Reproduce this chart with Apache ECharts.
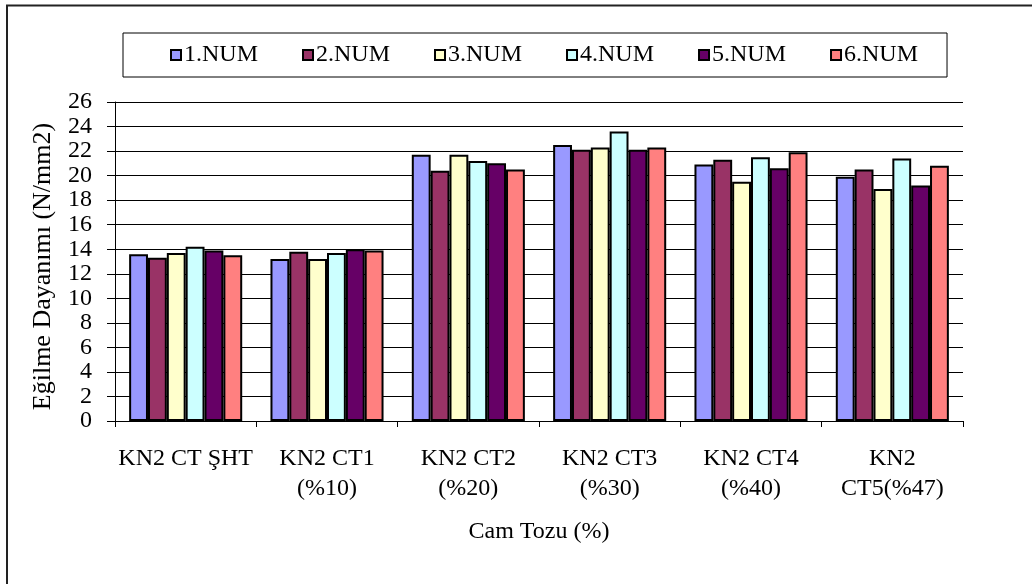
<!DOCTYPE html>
<html>
<head>
<meta charset="utf-8">
<script src="https://cdn.jsdelivr.net/npm/echarts@6/dist/echarts.min.js"></script>
<style>
  html, body { margin: 0; padding: 0; background: #fff; }
  #chart { width: 1032px; height: 584px; }
</style>
</head>
<body>
<div id="chart"></div>
<script>
// Category labels (sample groups)
const categories = ['KN2 CT ŞHT', 'KN2 CT1\n(%10)', 'KN2 CT2\n(%20)', 'KN2 CT3\n(%30)', 'KN2 CT4\n(%40)', 'KN2\nCT5(%47)'];

// Series names
const seriesNames = ['1.NUM', '2.NUM', '3.NUM', '4.NUM', '5.NUM', '6.NUM'];

// Flexural strength (N/mm2) per specimen
const num1 = [13.6, 13.2, 21.7, 22.5, 20.9, 19.9];
const num2 = [13.3, 13.8, 20.4, 22.1, 21.3, 20.5];
const num3 = [13.7, 13.2, 21.7, 22.3, 19.5, 18.9];
const num4 = [14.2, 13.7, 21.2, 23.6, 21.5, 21.4];
const num5 = [13.9, 14.0, 21.0, 22.1, 20.6, 19.2];
const num6 = [13.5, 13.9, 20.5, 22.3, 21.9, 20.8];

// Y axis range
const yMin = 0;
const yMax = 26;
const yStep = 2;

const seriesValues = [num1, num2, num3, num4, num5, num6];
const colors = ['#9999FF', '#993366', '#FFFFCC', '#CCFFFF', '#660066', '#FF8080'];

const FONT = '"Liberation Serif", "Times New Roman", serif';

const chart = echarts.init(document.getElementById('chart'), null, { renderer: 'canvas' });

const option = {
  animation: false,
  backgroundColor: '#fff',
  textStyle: { fontFamily: FONT, color: '#000' },
  graphic: [
    {
      type: 'polyline',
      silent: true,
      shape: { points: [[7, 584], [7, 5.5], [1032, 5.5]] },
      style: { stroke: '#222', lineWidth: 2, fill: null }
    }
  ],
  legend: {
    data: seriesNames,
    left: 123,
    top: 33,
    padding: [10, 29, 10, 47],
    itemGap: 44,
    itemWidth: 10,
    itemHeight: 10,
    borderColor: '#000',
    borderWidth: 1,
    icon: 'rect',
    itemStyle: { borderColor: '#000', borderWidth: 2 },
    textStyle: { fontFamily: FONT, fontSize: 24, color: '#000', padding: [0, 0, 0, -2] }
  },
  grid: {
    left: 115,
    right: 69,
    top: 102,
    bottom: 163,
    containLabel: false
  },
  xAxis: {
    type: 'category',
    data: categories,
    name: 'Cam Tozu (%)',
    nameLocation: 'middle',
    nameGap: 99,
    nameTextStyle: { fontFamily: FONT, fontSize: 24, color: '#000' },
    axisLine: { lineStyle: { color: '#000', width: 1 } },
    axisTick: { show: true, length: 6, lineStyle: { color: '#000' } },
    axisLabel: { fontFamily: FONT, fontSize: 24, color: '#000', margin: 23, lineHeight: 30, interval: 0 }
  },
  yAxis: [
    {
      type: 'value',
      min: yMin,
      max: yMax,
      interval: yStep,
      name: 'Eğilme Dayanımı (N/mm2)',
      nameLocation: 'middle',
      nameGap: 59,
      nameTextStyle: { fontFamily: FONT, fontSize: 26, color: '#000', padding: [0, 10, 0, 0] },
      axisLine: { show: true, lineStyle: { color: '#000', width: 1 } },
      axisTick: { show: true, length: 8, lineStyle: { color: '#000' } },
      axisLabel: { fontFamily: FONT, fontSize: 24, color: '#000', margin: 23 },
      splitLine: { show: true, lineStyle: { color: '#000', width: 1 } }
    },
    {
      // inner half of the crossing tick marks
      type: 'value',
      min: yMin,
      max: yMax,
      interval: yStep,
      position: 'left',
      axisLine: { show: false },
      axisTick: { show: true, inside: true, length: 7, lineStyle: { color: '#000' } },
      axisLabel: { show: false },
      splitLine: { show: false }
    }
  ],
  series: seriesValues.map((vals, i) => ({
    name: seriesNames[i],
    type: 'bar',
    data: vals,
    barGap: '0%',
    barCategoryGap: '20%',
    itemStyle: { color: colors[i], borderColor: '#000', borderWidth: 2 }
  }))
};

chart.setOption(option);
</script>
</body>
</html>
